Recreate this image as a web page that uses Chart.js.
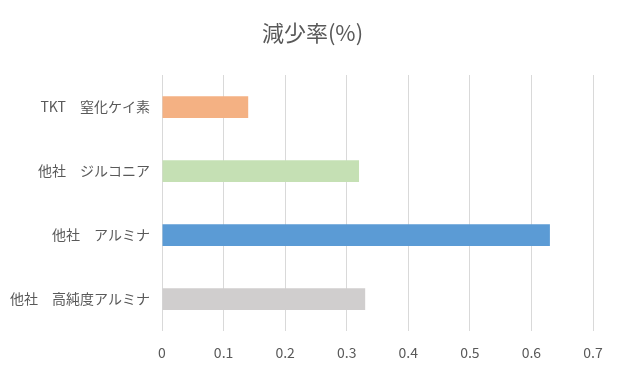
<!DOCTYPE html>
<html>
<head>
<meta charset="utf-8">
<script src="https://cdn.jsdelivr.net/npm/chart.js@4"></script>
<style>
  html, body { margin: 0; padding: 0; background: #fff; }
  #wrap { width: 625px; height: 374px; }
</style>
</head>
<body>
<div id="wrap"><canvas id="chart"></canvas></div>
<script>
const categories = ['TKT　窒化ケイ素', '他社　ジルコニア', '他社　アルミナ', '他社　高純度アルミナ'];
const values = [0.14, 0.32, 0.63, 0.33];
const barColors = ['#F4B183', '#C5E0B4', '#5B9BD5', '#D0CECE'];
const chartTitle = '減少率(%)';

const fontFamily = "'Noto Sans CJK JP', 'Noto Sans', sans-serif";

// title centred on the whole canvas, not on the padded box
const centeredTitle = {
    id: 'centeredTitle',
    afterDraw(chart) {
        const ctx = chart.ctx;
        ctx.save();
        ctx.fillStyle = '#595959';
        ctx.font = `22px ${fontFamily}`;
        ctx.textAlign = 'center';
        ctx.textBaseline = 'middle';
        ctx.fillText(chartTitle, chart.width / 2, 33);
        ctx.restore();
    }
};

new Chart(document.getElementById('chart'), {
    type: 'bar',
    data: {
        labels: categories,
        datasets: [{
            data: values,
            backgroundColor: barColors,
            borderWidth: 0,
            barPercentage: 0.34,
            categoryPercentage: 1
        }]
    },
    options: {
        indexAxis: 'y',
        responsive: true,
        maintainAspectRatio: false,
        animation: false,
        layout: { padding: { left: 0, right: 32, top: 75, bottom: 0 } },
        plugins: {
            legend: { display: false },
            tooltip: { enabled: false },
            title: { display: false }
        },
        scales: {
            x: {
                min: 0,
                max: 0.7,
                ticks: {
                    stepSize: 0.1,
                    color: '#595959',
                    font: { family: fontFamily, size: 14 },
                    padding: 13
                },
                grid: { color: '#D9D9D9', drawTicks: false },
                border: { display: false }
            },
            y: {
                ticks: {
                    color: '#595959',
                    font: { family: fontFamily, size: 14 },
                    padding: 4
                },
                grid: { display: false },
                border: { display: false },
                afterFit: (scale) => { scale.width = 162; }
            }
        }
    },
    plugins: [centeredTitle]
});
</script>
</body>
</html>
